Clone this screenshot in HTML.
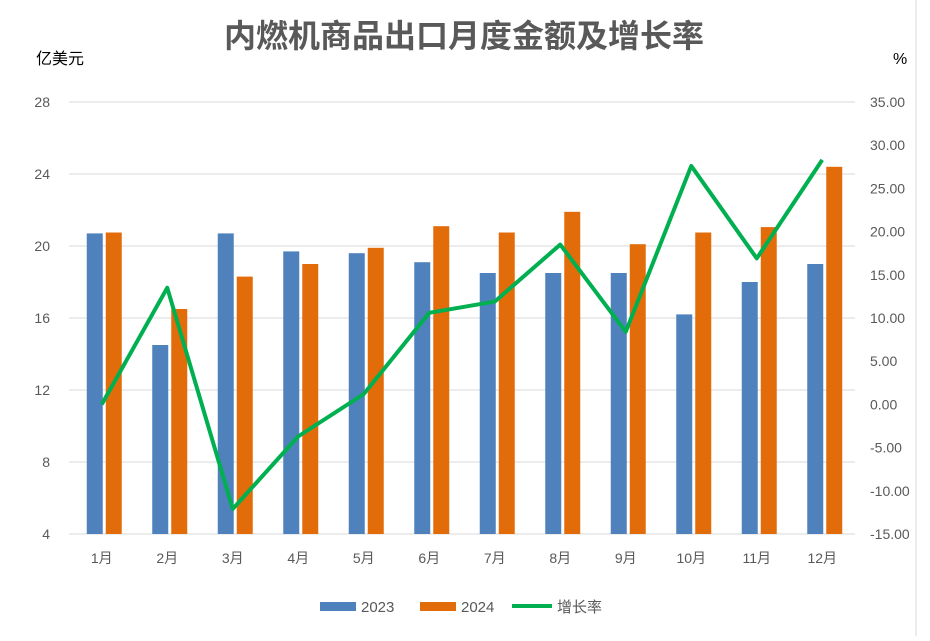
<!DOCTYPE html>
<html><head><meta charset="utf-8"><style>
html,body{margin:0;padding:0;background:#fff;}
svg text{font-family:"Liberation Sans","Noto Sans CJK SC",sans-serif;}
</style></head><body>
<svg id="chart" width="930" height="636" xmlns="http://www.w3.org/2000/svg">
<rect x="0" y="0" width="930" height="636" fill="#fff"/>
<line x1="916" y1="0" x2="916" y2="636" stroke="#d9d9d9"/>
<text x="464" y="47" text-anchor="middle" font-size="32" font-weight="bold" fill="#595959">内燃机商品出口月度金额及增长率</text>
<text x="36" y="64" font-size="16" fill="#000">亿美元</text>
<text x="893" y="64" font-size="16" fill="#000">%</text>
<g id="grid"></g><g id="bars"></g><g id="line"></g><g id="axes"></g>
<g>
<rect x="320" y="602" width="36" height="9" fill="#4f81bd"/>
<text x="361" y="612" font-size="15" fill="#595959">2023</text>
<rect x="420" y="602" width="36" height="9" fill="#e36c0a"/>
<text x="461" y="612" font-size="15" fill="#595959">2024</text>
<line x1="512" y1="606" x2="552" y2="606" stroke="#00b050" stroke-width="4"/>
<text x="557" y="612" font-size="15" fill="#595959">增长率</text>
</g>
</svg>
<script>
const categories=["1月","2月","3月","4月","5月","6月","7月","8月","9月","10月","11月","12月"];
const values2023=[20.7,14.5,20.7,19.7,19.6,19.1,18.5,18.5,18.5,16.2,18.0,19.0];
const values2024=[20.75,16.5,18.3,19.0,19.9,21.1,20.75,21.9,20.1,20.75,21.05,24.4];
const growth=[0.0,13.5,-12.1,-3.7,1.2,10.6,11.9,18.5,8.4,27.6,16.9,28.3];
const leftTicks=[4,8,12,16,20,24,28];
const rightTicks=[-15,-10,-5,0,5,10,15,20,25,30,35];
const NS="http://www.w3.org/2000/svg";
const X0=69,X1=855,Y0=534,Y1=102;
const yL=v=>Y0-(v-4)/24*(Y0-Y1);
const yR=v=>Y0-(v+15)/50*(Y0-Y1);
const band=(X1-X0)/categories.length;
const xC=i=>X0+band*(i+0.5);
function mk(t,a,p){const e=document.createElementNS(NS,t);for(const k in a)e.setAttribute(k,a[k]);p.appendChild(e);return e;}
const grid=document.getElementById('grid'),bars=document.getElementById('bars'),line=document.getElementById('line'),axes=document.getElementById('axes');
leftTicks.forEach(v=>{
const g=mk('line',{x1:X0,x2:X1,y1:yL(v),y2:yL(v),stroke:'#d9d9d9'},grid);


const t=mk('text',{x:50,y:yL(v)+5,'text-anchor':'end','font-size':14,fill:'#595959'},axes);
t.textContent=v;


});
rightTicks.forEach(v=>{
const t=mk('text',{x:870,y:yR(v)+5,'font-size':14,fill:'#595959'},axes);
t.textContent=v.toFixed(2);


});
categories.forEach((c,i)=>{
const cx=xC(i);
const b1=mk('rect',{x:cx-15,y:yL(values2023[i]),width:16,height:Y0-yL(values2023[i]),fill:'#4f81bd'},bars);


const b2=mk('rect',{x:cx+4,y:yL(values2024[i]),width:16,height:Y0-yL(values2024[i]),fill:'#e36c0a'},bars);


const t=mk('text',{x:cx,y:563,'text-anchor':'middle','font-size':14,fill:'#595959'},axes);
t.textContent=c;


});
const pl=mk('polyline',{points:growth.map((v,i)=>xC(i)+','+yR(v)).join(' '),fill:'none',stroke:'#00b050','stroke-width':4,'stroke-linejoin':'round'},line);


</script>
</body></html>
